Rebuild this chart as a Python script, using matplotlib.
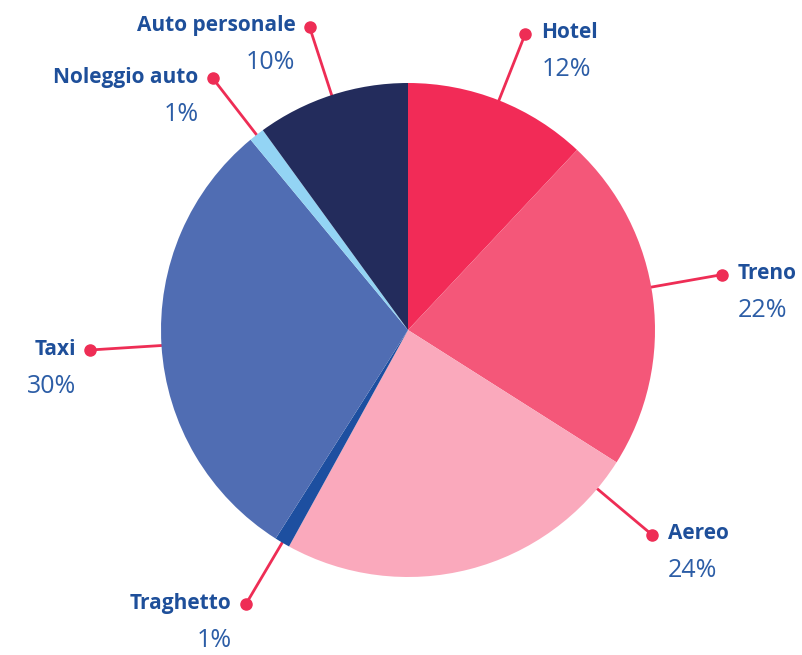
import numpy as np
import matplotlib.pyplot as plt

# spese di viaggio per voce (%)
categorie = ['Hotel', 'Treno', 'Aereo', 'Traghetto', 'Taxi', 'Noleggio auto', 'Auto personale']
valori = [12, 22, 24, 1, 30, 1, 10]
colori = ['#F22B57', '#F45779', '#FAA9BC', '#1D4FA0', '#506DB3', '#93D4F4', '#232C5C']
# angolo dell'etichetta (gradi, in senso orario dalle 12); None = centro spicchio
angoli_etichetta = [None, 80, 130, None, None, None, None]

W, H = 802, 655
fig = plt.figure(figsize=(W / 100, H / 100), dpi=100)
ax = fig.add_axes([0, 0, 1, 1])

cx, cy, r = 408, H - 330, 247
ax.pie(valori, colors=colori, startangle=90, counterclock=False,
       center=(cx, cy), radius=r, frame=True,
       wedgeprops=dict(linewidth=0))
ax.set_xlim(0, W)
ax.set_ylim(0, H)
ax.axis('off')

rosso = '#EE2D55'
blu_nome = '#1E4F9A'
blu_perc = '#2C5DA6'

cum = np.cumsum([0] + valori[:-1])
for i, (nome, v) in enumerate(zip(categorie, valori)):
    ang = angoli_etichetta[i]
    if ang is None:
        ang = (cum[i] + v / 2) / 100 * 360
    t = np.radians(ang)
    dx, dy = np.sin(t), np.cos(t)
    x0, y0 = cx + 0.97 * r * dx, cy + 0.97 * r * dy
    x1, y1 = cx + 1.29 * r * dx, cy + 1.29 * r * dy
    ax.plot([x0, x1], [y0, y1], color=rosso, lw=2, zorder=0, solid_capstyle='butt')
    ax.plot(x1, y1, 'o', color=rosso, ms=8, zorder=3)
    if dx >= 0:
        tx, ha = x1 + 16, 'left'
    else:
        tx, ha = x1 - 14, 'right'
    ax.text(tx, y1 + 1, nome, ha=ha, va='center', fontsize=15,
            fontweight='bold', family='Open Sans', color=blu_nome)
    ax.text(tx, y1 - 36, f'{v}%', ha=ha, va='center', fontsize=18,
            fontweight='normal', family='Open Sans', color=blu_perc)

fig.savefig('out.png', dpi=100)
